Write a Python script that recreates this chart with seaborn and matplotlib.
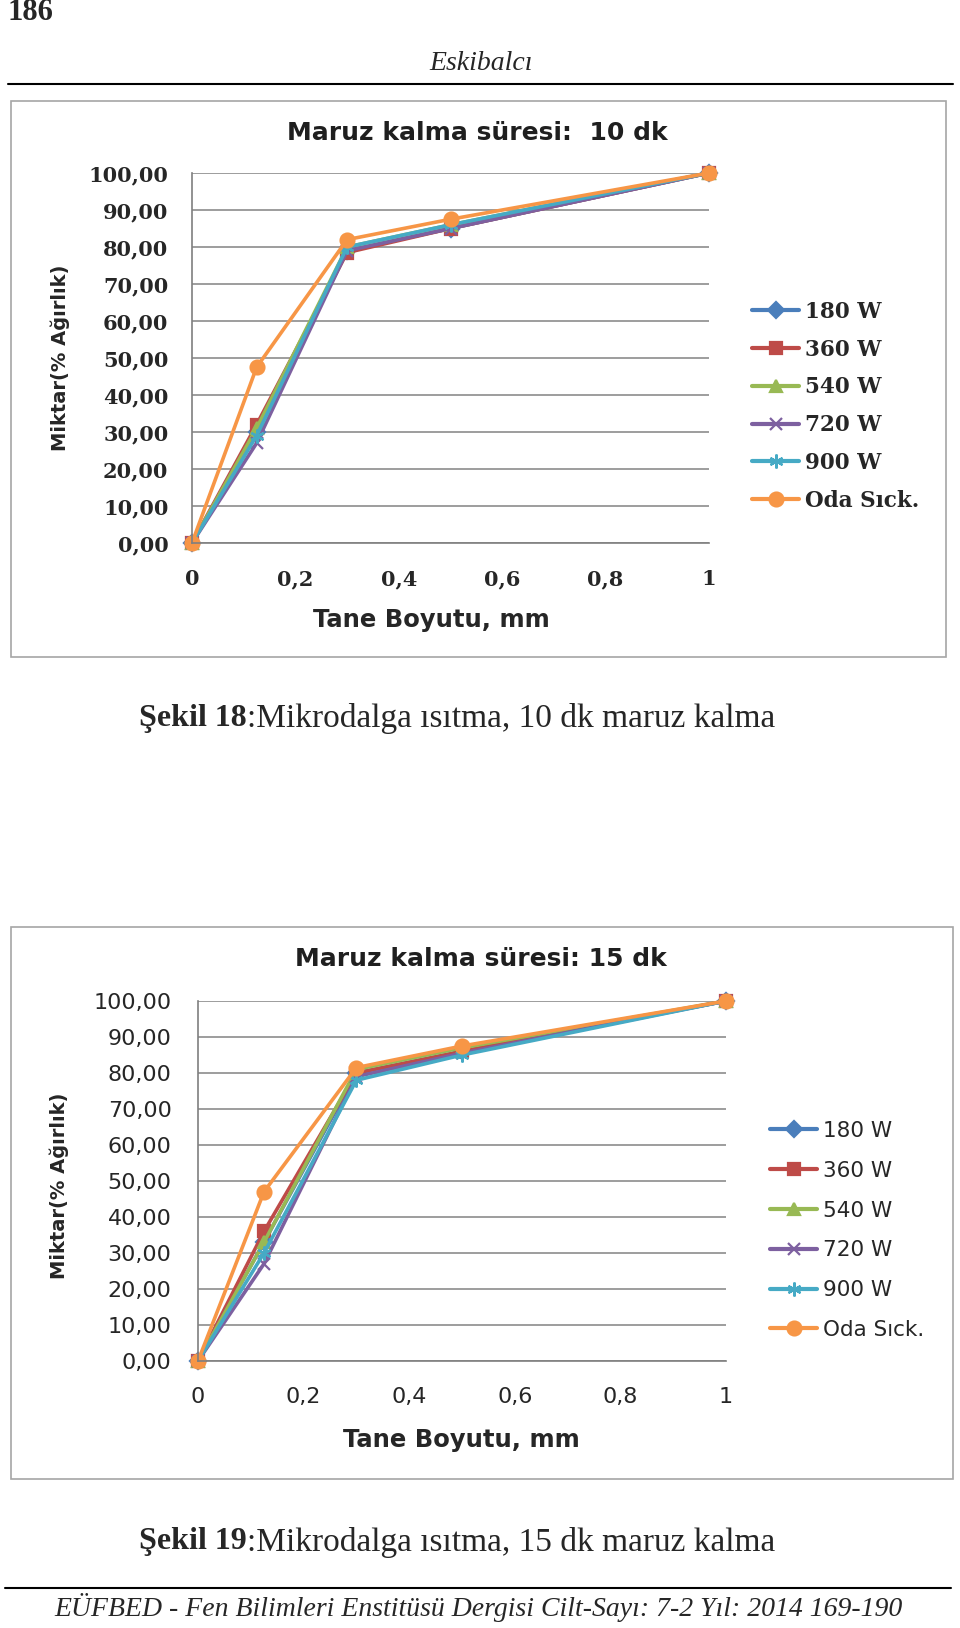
import matplotlib
matplotlib.use("Agg")
import pandas as pd
import matplotlib.pyplot as plt
from matplotlib.patches import Rectangle
from matplotlib.lines import Line2D
import seaborn as sns

# Data
SIZES_MM = [0, 0.125, 0.3, 0.5, 1.0]
SERIES = ["180 W", "360 W", "540 W", "720 W", "900 W", "Oda Sıck."]

# Figure 18: 10 min exposure
P10_180W = [0, 30, 79, 85, 100]
P10_360W = [0, 32, 78.5, 85, 100]
P10_540W = [0, 31, 80, 86, 100]
P10_720W = [0, 27, 79, 85, 100]
P10_900W = [0, 29, 80, 86, 100]
P10_ODA = [0, 47.5, 82, 87.5, 100]

# Figure 19: 15 min exposure
P15_180W = [0, 33, 80, 86, 100]
P15_360W = [0, 36, 80, 86, 100]
P15_540W = [0, 33, 81, 87, 100]
P15_720W = [0, 27, 79, 85.5, 100]
P15_900W = [0, 30, 78, 85, 100]
P15_ODA = [0, 47, 81.5, 87.5, 100]

Y_TICKS = [0, 10, 20, 30, 40, 50, 60, 70, 80, 90, 100]
Y_TICK_LABELS = ["0,00", "10,00", "20,00", "30,00", "40,00", "50,00",
                 "60,00", "70,00", "80,00", "90,00", "100,00"]
X_TICKS = [0, 0.2, 0.4, 0.6, 0.8, 1.0]
X_TICK_LABELS = ["0", "0,2", "0,4", "0,6", "0,8", "1"]

PALETTE = {"180 W": "#4A7EBB", "360 W": "#BE4B48", "540 W": "#98B954",
           "720 W": "#7D60A0", "900 W": "#46AAC5", "Oda Sıck.": "#F79646"}
MARKERS = {"180 W": "D", "360 W": "s", "540 W": "^",
           "720 W": "x", "900 W": (6, 2, 0), "Oda Sıck.": "o"}
MARKER_SIZES = {"180 W": 8, "360 W": 9, "540 W": 9,
                "720 W": 9, "900 W": 10, "Oda Sıck.": 10}

W, H = 960, 1628
SERIF = ["Liberation Serif", "DejaVu Serif"]


def fx(x):
    return x / W


def fy(y):
    return 1 - y / H


def make_frame(series_values):
    rows = []
    for name, vals in zip(SERIES, series_values):
        for s, v in zip(SIZES_MM, vals):
            rows.append({"size": s, "pct": v, "series": name})
    return pd.DataFrame(rows)


def style_marker(artist, name):
    artist.set_marker(MARKERS[name])
    artist.set_markersize(MARKER_SIZES[name])
    artist.set_markerfacecolor(PALETTE[name])
    artist.set_markeredgecolor(PALETTE[name])
    artist.set_markeredgewidth(1.6)


def draw_chart(fig, box, plot_px, df, title, title_xy, ylab_xy, xlab_xy,
               legend_xy, tick_font, tick_weight, tick_size, legend_size,
               legend_spacing, ypad, xpad, title_size):
    # outer frame of the embedded chart
    x0, y0, x1, y1 = box
    fig.add_artist(Rectangle((fx(x0), fy(y1)), fx(x1) - fx(x0), fy(y0) - fy(y1),
                             transform=fig.transFigure, fill=False,
                             edgecolor="#A6A6A6", linewidth=1.2))
    left, top, right, bottom = plot_px
    ax = fig.add_axes([fx(left), fy(bottom), fx(right) - fx(left), fy(top) - fy(bottom)])
    sns.lineplot(data=df, x="size", y="pct", hue="series", hue_order=SERIES,
                 palette=PALETTE, marker="o", sort=False, linewidth=2.6,
                 ax=ax, clip_on=False)
    for line, name in zip(ax.lines, SERIES):
        style_marker(line, name)

    ax.set_xlim(0, 1)
    ax.set_ylim(0, 100)
    ax.set_yticks(Y_TICKS)
    ax.set_yticklabels(Y_TICK_LABELS, fontfamily=tick_font, fontweight=tick_weight,
                       fontsize=tick_size)
    ax.set_xticks(X_TICKS)
    ax.set_xticklabels(X_TICK_LABELS, fontfamily=tick_font, fontweight=tick_weight,
                       fontsize=tick_size)
    ax.set_xticks([i * 0.04 for i in range(26)], minor=True)
    ax.tick_params(axis="y", length=0, pad=ypad)
    ax.tick_params(axis="x", which="major", direction="out", length=8, width=1.2,
                   color="#7F7F7F", pad=xpad)
    ax.tick_params(axis="x", which="minor", direction="inout", length=6, width=1.0,
                   color="#7F7F7F")
    ax.yaxis.grid(True, color="#8C8C8C", linewidth=1.2)
    ax.xaxis.grid(False)
    ax.set_axisbelow(True)
    for side in ("top", "right"):
        ax.spines[side].set_visible(False)
    for side in ("left", "bottom"):
        ax.spines[side].set_color("#7F7F7F")
        ax.spines[side].set_linewidth(1.2)
    ax.set_xlabel("")
    ax.set_ylabel("")

    # legend to the right of the plot
    leg = ax.get_legend()
    handles = leg.legend_handles
    labels = [t.get_text() for t in leg.get_texts()]
    for h, name in zip(handles, labels):
        h.set_linewidth(3)
        style_marker(h, name)
    ax.legend(handles, labels, loc="upper left",
              bbox_to_anchor=(fx(legend_xy[0]), fy(legend_xy[1])),
              bbox_transform=fig.transFigure, frameon=False, borderpad=0,
              borderaxespad=0, handlelength=2.2, handletextpad=0.25,
              labelspacing=legend_spacing,
              prop={"family": tick_font, "weight": tick_weight, "size": legend_size})

    fig.text(fx(title_xy[0]), fy(title_xy[1]), title, ha="center", va="center",
             fontsize=title_size, fontweight="bold", family="DejaVu Sans", color="#1F1F1F")
    fig.text(fx(ylab_xy[0]), fy(ylab_xy[1]), "Miktar(% Ağırlık)", ha="center", va="center",
             rotation=90, fontsize=14, fontweight="bold", family="DejaVu Sans")
    fig.text(fx(xlab_xy[0]), fy(xlab_xy[1]), "Tane Boyutu, mm", ha="center", va="center",
             fontsize=17.5, fontweight="bold", family="DejaVu Sans")
    return ax


def caption(fig, y, bold_part, rest):
    split_x = 247
    fig.text(fx(split_x), fy(y), bold_part, ha="right", va="center", fontsize=23,
             fontweight="bold", family=SERIF)
    fig.text(fx(split_x), fy(y), rest, ha="left", va="center", fontsize=24, family=SERIF)


def main():
    sns.set_style("white")
    plt.rcParams["font.family"] = ["DejaVu Sans"]
    fig = plt.figure(figsize=(W / 100, H / 100), dpi=100)

    # page header
    fig.text(fx(8), fy(12), "186", ha="left", va="center", fontsize=22,
             fontweight="bold", family=SERIF)
    fig.text(fx(481), fy(64), "Eskibalcı", ha="center", va="center", fontsize=20,
             style="italic", family=SERIF)
    fig.add_artist(Line2D([fx(8), fx(953)], [fy(84), fy(84)], color="black", linewidth=1.5))

    df10 = make_frame([P10_180W, P10_360W, P10_540W, P10_720W, P10_900W, P10_ODA])
    draw_chart(fig, (11, 101, 946, 657), (192, 173, 709, 543), df10,
               "Maruz kalma süresi:  10 dk", (477, 133), (60, 358), (431, 620),
               (752, 301), "DejaVu Serif", "bold", 15, 15.5, 0.73, 17, 11, 18)
    caption(fig, 719, "Şekil 18", ":Mikrodalga ısıtma, 10 dk maruz kalma")

    df15 = make_frame([P15_180W, P15_360W, P15_540W, P15_720W, P15_900W, P15_ODA])
    draw_chart(fig, (11, 927, 953, 1479), (198, 1001, 726, 1361), df15,
               "Maruz kalma süresi: 15 dk", (481, 959), (59, 1186), (461, 1440),
               (770, 1121), "DejaVu Sans", "normal", 16, 15.5, 0.92, 19, 11, 18)
    caption(fig, 1542, "Şekil 19", ":Mikrodalga ısıtma, 15 dk maruz kalma")

    # page footer
    fig.add_artist(Line2D([fx(5), fx(951)], [fy(1588), fy(1588)], color="black", linewidth=1.5))
    fig.text(fx(478), fy(1608),
             "EÜFBED - Fen Bilimleri Enstitüsü Dergisi Cilt-Sayı: 7-2 Yıl: 2014 169-190",
             ha="center", va="center", fontsize=20, style="italic", family=SERIF)

    fig.savefig("out.png", dpi=100)


if __name__ == "__main__":
    main()
